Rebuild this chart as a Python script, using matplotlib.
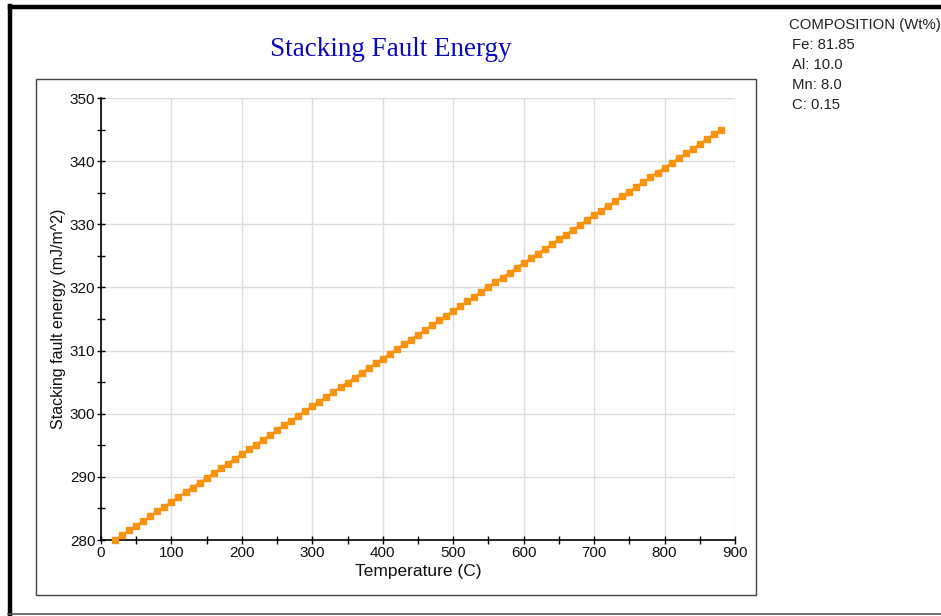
"""Stacking fault energy vs. temperature for an Fe-Al-Mn-C alloy."""
import matplotlib
matplotlib.use("Agg")
import matplotlib.pyplot as plt
from matplotlib.lines import Line2D
from matplotlib.patches import Rectangle
from matplotlib.ticker import MultipleLocator

temperature = [
    20, 30, 40, 50, 60, 70, 80, 90, 100, 110, 120, 130, 140, 150, 160, 170,
    180, 190, 200, 210, 220, 230, 240, 250, 260, 270, 280, 290, 300, 310, 320,
    330, 340, 350, 360, 370, 380, 390, 400, 410, 420, 430, 440, 450, 460, 470,
    480, 490, 500, 510, 520, 530, 540, 550, 560, 570, 580, 590, 600, 610, 620,
    630, 640, 650, 660, 670, 680, 690, 700, 710, 720, 730, 740, 750, 760, 770,
    780, 790, 800, 810, 820, 830, 840, 850, 860, 870, 880,
]
sfe = [
    280.00, 280.76, 281.51, 282.27, 283.02, 283.78, 284.53, 285.29, 286.05,
    286.80, 287.56, 288.31, 289.07, 289.83, 290.58, 291.34, 292.09, 292.85,
    293.60, 294.36, 295.12, 295.87, 296.63, 297.38, 298.14, 298.90, 299.65,
    300.41, 301.16, 301.92, 302.67, 303.43, 304.19, 304.94, 305.70, 306.45,
    307.21, 307.97, 308.72, 309.48, 310.23, 310.99, 311.74, 312.50, 313.26,
    314.01, 314.77, 315.52, 316.28, 317.03, 317.79, 318.55, 319.30, 320.06,
    320.81, 321.57, 322.33, 323.08, 323.84, 324.59, 325.35, 326.10, 326.86,
    327.62, 328.37, 329.13, 329.88, 330.64, 331.40, 332.15, 332.91, 333.66,
    334.42, 335.17, 335.93, 336.69, 337.44, 338.20, 338.95, 339.71, 340.47,
    341.22, 341.98, 342.73, 343.49, 344.24, 345.00,
]
composition = ["Fe: 81.85", "Al: 10.0", "Mn: 8.0", "C: 0.15"]

W, H = 941, 616
plt.rcParams["font.family"] = ["Liberation Sans", "DejaVu Sans"]

fig = plt.figure(figsize=(W / 100, H / 100), dpi=100)


def fx(px):
    return px / W


def fy(py):
    return 1 - py / H


# outer frame: heavy top and left edges, thin bottom edge
fig.add_artist(Line2D([fx(9.5), 1], [fy(7), fy(7)], color="black", lw=3.2))
fig.add_artist(Line2D([fx(9.5), fx(9.5)], [fy(5.5), fy(614)], color="black", lw=3.2))
fig.add_artist(Line2D([fx(8), 1], [fy(614), fy(614)], color="#555555", lw=1.2))

# inner chart panel
fig.add_artist(Rectangle((fx(36), fy(595)), fx(756) - fx(36), fy(79) - fy(595),
                         fill=False, edgecolor="#444444", lw=1.0))

ax = fig.add_axes([fx(101), fy(540), fx(735) - fx(101), fy(98) - fy(540)])
ax.plot(temperature, sfe, color="#f7930f", lw=1.5, marker="s", ms=4.5,
        mec="#f7930f", mfc="#f7930f", clip_on=False, zorder=3)

ax.set_xlim(0, 900)
ax.set_ylim(280, 350)
ax.xaxis.set_major_locator(MultipleLocator(100))
ax.xaxis.set_minor_locator(MultipleLocator(50))
ax.yaxis.set_major_locator(MultipleLocator(10))
ax.yaxis.set_minor_locator(MultipleLocator(5))
ax.grid(True, which="major", color="#dddddd", lw=1.0)
ax.set_axisbelow(True)

for side in ("top", "right"):
    ax.spines[side].set_visible(False)
for side in ("left", "bottom"):
    ax.spines[side].set_color("black")
    ax.spines[side].set_linewidth(1.2)

ax.tick_params(which="both", direction="inout", length=6, width=1.0,
               color="black", labelsize=11, labelcolor="#111111", pad=1)

ax.set_xlabel("Temperature (C)", fontsize=12.5, color="#111111", labelpad=3)
ax.set_ylabel("Stacking fault energy (mJ/m^2)", fontsize=11.5,
              color="#111111", labelpad=3)

fig.text(fx(391), fy(50), "Stacking Fault Energy", ha="center", va="center",
         fontsize=19.5, color="#0a0ab8", family="Liberation Serif")

fig.text(fx(789), fy(25), "COMPOSITION (Wt%)", ha="left", va="center",
         fontsize=10.7, color="#222222")
for i, line in enumerate(composition):
    fig.text(fx(792), fy(45 + 20 * i), line, ha="left", va="center",
             fontsize=10.7, color="#222222")

fig.savefig("out.png", dpi=100)
